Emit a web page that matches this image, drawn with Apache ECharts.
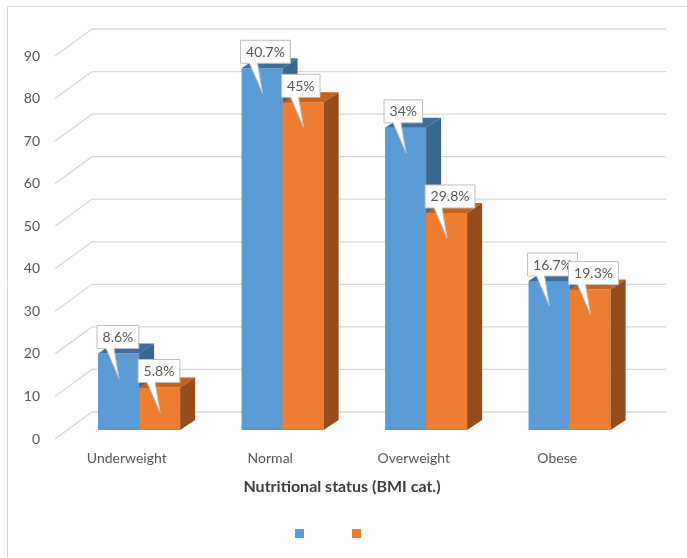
<!DOCTYPE html>
<html>
<head>
<meta charset="utf-8">
<script src="https://cdn.jsdelivr.net/npm/echarts@6/dist/echarts.min.js"></script>
<style>
  html, body { margin: 0; padding: 0; background: #ffffff; }
  #chart { width: 687px; height: 558px; }
</style>
</head>
<body>
<div id="chart"></div>
<script>
// BMI category counts for the two groups
const categories = ['Underweight', 'Normal', 'Overweight', 'Obese'];
const blueCounts = [18, 85, 71, 35];
const orangeCounts = [10, 77, 51, 33];
const yTicks = [0, 10, 20, 30, 40, 50, 60, 70, 80, 90];
const axisTitle = 'Nutritional status (BMI cat.)';

// Percentage share of each category within its group, e.g. "40.7%" or "34%"
function shareLabels(counts) {
  const total = counts.reduce((a, b) => a + b, 0);
  return counts.map(v => (v / total * 100).toFixed(1).replace(/\.0$/, '') + '%');
}
const blueLabels = shareLabels(blueCounts);
const orangeLabels = shareLabels(orangeCounts);

// 3D look: offset of the back wall and of each bar's depth (pixels)
const WALL = [37, -27];
const BAR_INSET = 1 / 3;          // bars stand a third of the way into the floor
const BAR_DEPTH = [15, -10];
const BAR_FRACTION = 0.286;       // bar width as a share of the category band
const FONT = 'Lato';
const TEXT_COLOR = '#595959';

const measureCtx = document.createElement('canvas').getContext('2d');
function textWidth(text, size) {
  measureCtx.font = size + 'px ' + FONT;
  return measureCtx.measureText(text).width;
}

function gridRenderer(params, api) {
  const cs = params.coordSys;
  const y = api.coord([0, api.value(1)])[1];
  const x0 = cs.x, x1 = cs.x + cs.width;
  return {
    type: 'polyline',
    z2: 0,
    shape: { points: [[x0, y], [x0 + WALL[0], y + WALL[1]], [x1 + WALL[0], y + WALL[1]]] },
    style: { stroke: '#D9D9D9', lineWidth: 1.3, fill: null }
  };
}

function barRenderer(side, labels, colors, zBase) {
  return function (params, api) {
    const i = api.value(0);
    const v = api.value(1);
    const base = api.coord([i, 0]);
    const top = api.coord([i, v]);
    const band = api.size([1, 0])[0];
    const w = band * BAR_FRACTION;
    const sx = WALL[0] * BAR_INSET, sy = WALL[1] * BAR_INSET;
    const x0 = base[0] + sx + (side < 0 ? -w : 0);
    const x1 = x0 + w;
    const yb = base[1] + sy;
    const yt = top[1] + sy;
    const dx = BAR_DEPTH[0], dy = BAR_DEPTH[1];

    // callout box with a pointer reaching into the bar
    const label = labels[params.dataIndex];
    const bw = textWidth(label, 14) + 11;
    const bh = 23;
    const L = x0 - 1, R = L + bw, B = yt - 5, T = B - bh;
    const tip = [x0 + 21, yt + 25];

    return {
      type: 'group',
      children: [
        { type: 'rect', z2: zBase,
          shape: { x: x0, y: yt, width: w, height: yb - yt },
          style: { fill: colors[0] } },
        { type: 'polygon', z2: zBase,
          shape: { points: [[x0, yt], [x1, yt], [x1 + dx, yt + dy], [x0 + dx, yt + dy]] },
          style: { fill: colors[1] } },
        { type: 'polygon', z2: zBase,
          shape: { points: [[x1, yt], [x1 + dx, yt + dy], [x1 + dx, yb + dy], [x1, yb]] },
          style: { fill: colors[2] } },
        { type: 'polygon', z2: zBase + 10,
          shape: { points: [[L, T], [R, T], [R, B], [L + 17, B], tip, [L + 9, B], [L, B]] },
          style: { fill: '#ffffff', stroke: '#BFBFBF', lineWidth: 1 } },
        { type: 'text', z2: zBase + 11,
          style: { text: label, x: (L + R) / 2, y: (T + B) / 2 + 0.5,
                   align: 'center', verticalAlign: 'middle',
                   fontSize: 14, fontFamily: FONT, fill: TEXT_COLOR } }
      ]
    };
  };
}

const chart = echarts.init(document.getElementById('chart'), null, { renderer: 'canvas' });
chart.setOption({
  animation: false,
  backgroundColor: '#ffffff',
  textStyle: { fontFamily: FONT },
  graphic: [{
    type: 'rect', silent: true,
    shape: { x: 7.5, y: 6.5, width: 720, height: 600 },
    style: { fill: null, stroke: '#D9D9D9', lineWidth: 1 }
  }],
  grid: { left: 55, right: 58, top: 56, bottom: 119 },
  legend: {
    data: ['Group A', 'Group B'],
    left: 290, top: 524,
    icon: 'rect', itemWidth: 9, itemHeight: 9, itemGap: 48,
    formatter: () => '',
    textStyle: { fontSize: 1 }
  },
  xAxis: {
    type: 'category',
    data: categories,
    axisLine: { show: false },
    axisTick: { show: false },
    axisLabel: { color: TEXT_COLOR, fontSize: 14, margin: 12 },
    name: axisTitle,
    nameLocation: 'middle',
    nameGap: 40,
    nameTextStyle: { color: '#404040', fontSize: 16, fontWeight: 'bold' }
  },
  yAxis: {
    type: 'value',
    min: 0, max: 90, interval: 10,
    axisLine: { show: false },
    axisTick: { show: false },
    splitLine: { show: false },
    axisLabel: { color: TEXT_COLOR, fontSize: 14, margin: 15 }
  },
  series: [
    {
      type: 'custom', name: 'walls', silent: true,
      renderItem: gridRenderer,
      data: yTicks.map(v => [0, v]),
      encode: { x: 0, y: 1 }
    },
    {
      type: 'custom', name: 'Group A',
      itemStyle: { color: '#5B9BD5' },
      renderItem: barRenderer(-1, blueLabels, ['#5B9BD5', '#3E6E9B', '#3A6791'], 2),
      data: blueCounts.map((v, i) => [i, v]),
      encode: { x: 0, y: 1 }
    },
    {
      type: 'custom', name: 'Group B',
      itemStyle: { color: '#ED7D31' },
      renderItem: barRenderer(1, orangeLabels, ['#ED7D31', '#C6621D', '#974D1B'], 4),
      data: orangeCounts.map((v, i) => [i, v]),
      encode: { x: 0, y: 1 }
    }
  ]
});
</script>
</body>
</html>
